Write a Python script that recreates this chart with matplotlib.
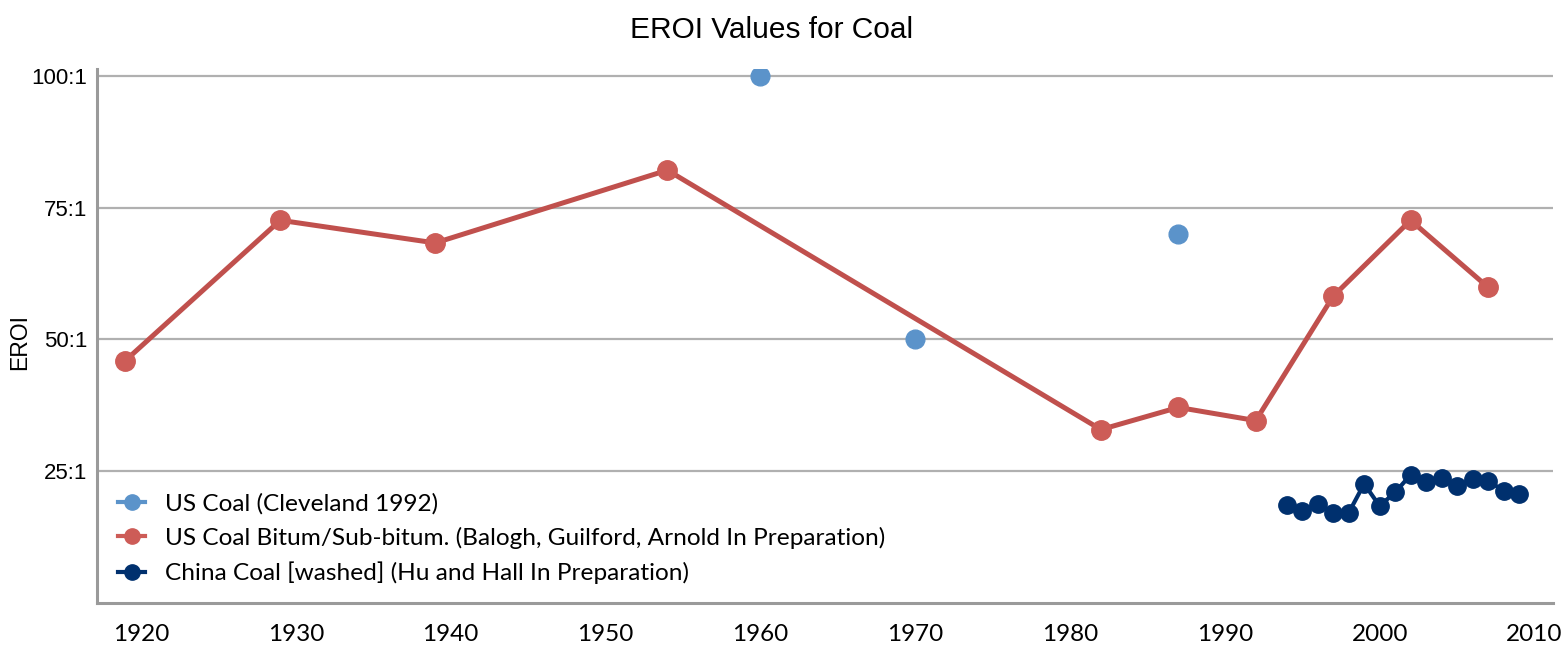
import matplotlib
matplotlib.use("Agg")
import matplotlib.pyplot as plt
from matplotlib.lines import Line2D

# US Coal (Cleveland 1992)
cleveland_years = [1960, 1970, 1987]
cleveland_eroi = [100, 50, 70]

# US Coal Bitum/Sub-bitum.
us_years = [1919, 1929, 1939, 1954, 1982, 1987, 1992, 1997, 2002, 2007]
us_eroi = [46.0, 72.6, 68.3, 82.1, 32.9, 37.1, 34.6, 58.2, 72.6, 59.9]

# China Coal [washed]
china_years = list(range(1994, 2010))
china_eroi = [18.6, 17.5, 18.8, 17.1, 17.1, 22.6, 18.4, 21.0,
              24.3, 22.9, 23.7, 22.2, 23.5, 23.2, 21.3, 20.7]

x_ticks = list(range(1920, 2011, 10))
y_ticks = [25, 50, 75, 100]
y_labels = ["25:1", "50:1", "75:1", "100:1"]

names = ["US Coal (Cleveland 1992)",
         "US Coal Bitum/Sub-bitum. (Balogh, Guilford, Arnold In Preparation)",
         "China Coal [washed] (Hu and Hall In Preparation)"]
colors = ["#5b93ca", "#cd5c57", "#00306e"]

fig = plt.figure(figsize=(15.64, 6.47), dpi=100)
ax = fig.add_axes([0.062, 0.068, 0.931, 0.8254])

ax.plot(cleveland_years, cleveland_eroi, linestyle="none", marker="o",
        markersize=13.5, color=colors[0], zorder=3)
ax.plot(us_years, us_eroi, linestyle="-", linewidth=3.6, color="#c0504d",
        marker="o", markersize=14, markerfacecolor=colors[1], markeredgecolor=colors[1],
        zorder=3)
ax.plot(china_years, china_eroi, linestyle="-", linewidth=3, color=colors[2],
        marker="o", markersize=12.5, zorder=4)

ax.set_xlim(1917.16, 2011.2)
ax.set_ylim(0, 101.3)
ax.set_xticks(x_ticks)
ax.set_yticks(y_ticks)
ax.set_yticklabels(y_labels)
ax.yaxis.grid(True, color="#b0b0b0", linewidth=1.6)
ax.set_axisbelow(True)

for s in ["top", "right"]:
    ax.spines[s].set_visible(False)
for s in ["left", "bottom"]:
    ax.spines[s].set_color("#9a9a9a")
    ax.spines[s].set_linewidth(2.2)

ax.tick_params(axis="both", length=0)
ax.tick_params(axis="x", pad=15)
ax.tick_params(axis="y", pad=7)
for lab in ax.get_xticklabels():
    lab.set_fontfamily("Lato")
    lab.set_fontsize(17.5)
for lab in ax.get_yticklabels():
    lab.set_fontfamily("Liberation Sans")
    lab.set_fontsize(16)

fig.text(772 / 1564, 1 - 30 / 647, "EROI Values for Coal", ha="center", va="center",
         fontsize=21.5, family="Liberation Sans")
fig.text(20 / 1564, 1 - 342 / 647, "EROI", rotation=90, ha="center", va="center",
         fontsize=16.5, family="Liberation Sans")

handles = [Line2D([], [], color=c, linewidth=3, marker="o", markersize=11) for c in colors]
leg = ax.legend(handles, names, loc="upper left", bbox_to_anchor=(0.008, 0.225),
                frameon=False, prop={"family": "Lato", "size": 17.6}, handlelength=1.1,
                handletextpad=0.8, labelspacing=0.52, borderaxespad=0)

fig.savefig("out.png", dpi=100)
